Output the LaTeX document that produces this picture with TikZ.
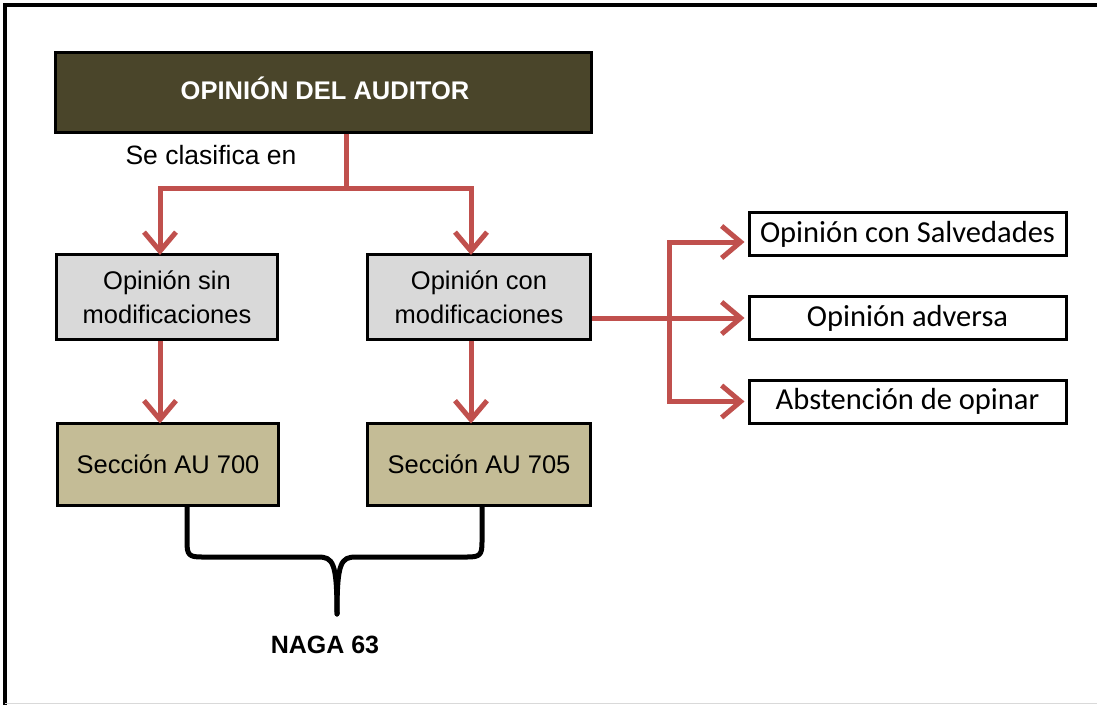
\documentclass[tikz,border=0pt]{standalone}
\usepackage{fontspec}
\setmainfont{Liberation Sans}
\newfontfamily\calib{Carlito}
\usetikzlibrary{arrows.meta}
\definecolor{olive}{RGB}{74,69,42}
\definecolor{lgray}{RGB}{217,217,217}
\definecolor{tan}{RGB}{196,188,150}
\definecolor{ared}{RGB}{192,80,77}
\tikzset{
  box/.style={draw=black,line width=3pt,rectangle,inner sep=0pt,align=center},
  redline/.style={draw=ared,line width=5pt},
  redarrow/.style={draw=ared,line width=5pt,-{Straight Barb[length=19pt,width=32pt]}},
  bracestyle/.style={draw=black,line width=5pt,line cap=round,line join=round},
  txt/.style={font=\fontsize{25.5}{34}\selectfont},
  rtxt/.style={font=\calib\fontsize{30.5}{36}\selectfont}
}
\begin{document}
\begin{tikzpicture}[x=1pt,y=-1pt]
\useasboundingbox (0,0) rectangle (1097,705);
% frame
\draw[black,line width=3.5pt] (5,705) -- (5,5) -- (1097,5);
\draw[gray!30,line width=1.5pt] (5,703.5) -- (1097,703.5);
% nodes
\node[box,fill=olive,minimum width=536pt,minimum height=80pt] (top) at (323,92) {};
\node[text=white,font=\bfseries\fontsize{25.5}{30}\selectfont] (toptxt) at (325,88) {OPINIÓN DEL AUDITOR};
\node[font=\fontsize{26.5}{30}\selectfont,anchor=west] (cls) at (122,155) {Se clasifica en};
\node[box,fill=lgray,minimum width=221pt,minimum height=85pt,txt] (gl) at (167,297) {Opinión sin\\modificaciones};
\node[box,fill=lgray,minimum width=223pt,minimum height=85pt,txt] (gr) at (479,297) {Opinión con\\modificaciones};
\node[box,fill=tan,minimum width=221pt,minimum height=82pt,txt] (al) at (168,464) {Sección AU 700};
\node[box,fill=tan,minimum width=223pt,minimum height=82pt,txt] (ar) at (479,464) {Sección AU 705};
\node[box,fill=white,minimum width=317pt,minimum height=43pt,rtxt] (r1) at (907.5,234) {Opinión con Salvedades};
\node[box,fill=white,minimum width=317pt,minimum height=43pt,rtxt] (r2) at (907.5,318) {Opinión adversa};
\node[box,fill=white,minimum width=317pt,minimum height=43pt,rtxt] (r3) at (907.5,401.5) {Abstención de opinar};
\node[font=\bfseries\fontsize{25}{30}\selectfont] (naga) at (325,645) {NAGA 63};
% connectors
\coordinate (j1) at (346,188);
\coordinate (xl) at (160,0);
\coordinate (xr) at (471,0);
\coordinate (jr) at (669,0);
\draw[redline] (top.south -| j1) -- (j1);
\draw[redarrow] (j1) -| ([yshift=-2pt]gl.north -| xl);
\draw[redarrow] (j1) -| ([yshift=-2pt]gr.north -| xr);
\draw[redarrow] (gl.south -| xl) -- ([yshift=-2pt]al.north -| xl);
\draw[redarrow] (gr.south -| xr) -- ([yshift=-2pt]ar.north -| xr);
\draw[redarrow] (gr.east |- r2.west) -- ([xshift=-3pt]r2.west);
\draw[redarrow] (jr |- r2.west) |- ([xshift=-3pt,yshift=-8pt]r1.west);
\draw[redarrow] (jr |- r2.west) |- ([xshift=-3pt]r3.west);
% brace
\coordinate (bp) at (337,614);
\draw[bracestyle] (al.south -| 187,0) -- (187,542) .. controls (187,555) and (189,557) .. (202,557) -- (318,557) .. controls (333,557) and (337,562) .. (bp);
\draw[bracestyle] (bp) .. controls (337,562) and (341,557) .. (356,557) -- (467,557) .. controls (480,557) and (482,555) .. (482,542) -- (ar.south -| 482,0);
\end{tikzpicture}
\end{document}
